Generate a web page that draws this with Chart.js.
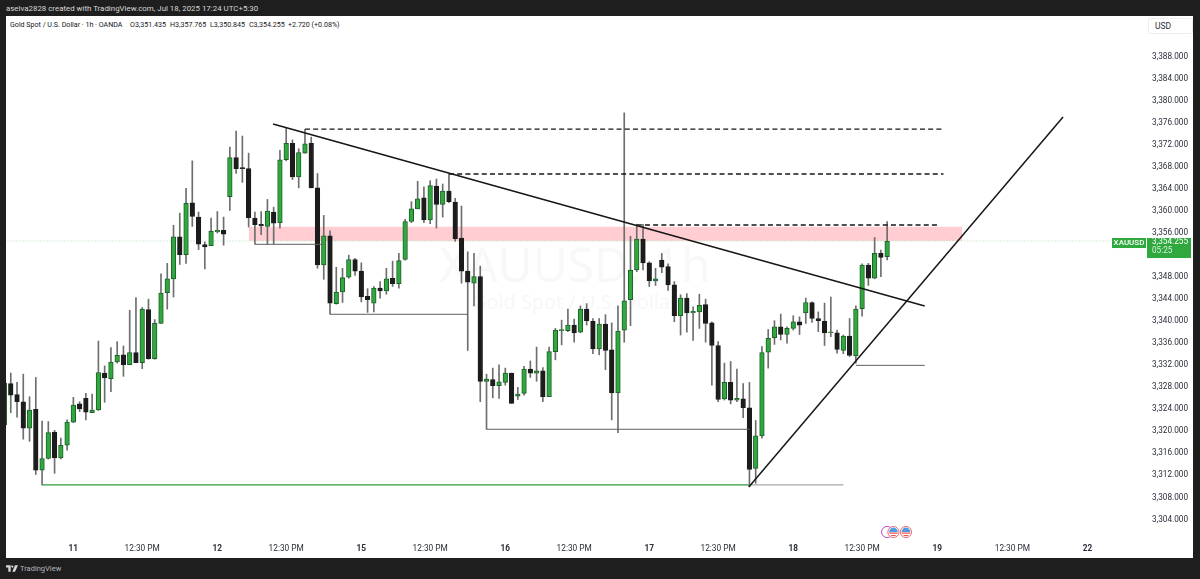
<!DOCTYPE html>
<html>
<head>
<meta charset="utf-8">
<title>XAUUSD 1h</title>
<script src="https://cdn.jsdelivr.net/npm/chart.js@4/dist/chart.umd.min.js"></script>
<style>
  html, body { margin: 0; padding: 0; width: 1200px; height: 579px; overflow: hidden; background: #1e1e1e; font-family: Roboto, sans-serif; }
  .abs { position: absolute; white-space: nowrap; }
  #panel { left: 6px; top: 16px; width: 1187px; height: 542px; background: #fff; }
  #credit { left: 6px; top: 3px; font-size: 7.9px; line-height: 11px; color: #d8d8d8; }
  .legend { top: 19px; font-size: 7.1px; line-height: 11px; color: #131722; }
  #mark { left: 340px; width: 470px; top: 236px; text-align: center; font-family: "Open Sans", sans-serif; font-size: 48px; line-height: 56px; color: #f8f8f8; }
  #submark { left: 340px; width: 470px; top: 290px; text-align: center; font-family: "Open Sans", sans-serif; font-size: 20px; line-height: 24px; color: #f7f7f7; }
  #usd { left: 1148px; top: 18px; width: 37px; height: 14px; padding-left: 6px; border: 1px solid #eeeeee; border-radius: 2px; font-size: 8.5px; line-height: 14px; color: #2a2e39; }
  #brand { left: 20px; top: 563px; font-size: 7.5px; line-height: 11px; color: #b2b5be; }
  #logo { left: 6px; top: 565px; }
  canvas { position: absolute; left: 0; top: 0; }
</style>
</head>
<body>
<div class="abs" id="panel"></div>
<div class="abs" id="mark">XAUUSD, 1h</div>
<div class="abs" id="submark">Gold Spot / U.S. Dollar</div>
<div class="abs" id="credit">aselva2828 created with TradingView.com, Jul 18, 2025 17:24 UTC+5:30</div>
<div class="abs legend" style="left:10px">Gold Spot / U.S. Dollar · 1h · OANDA</div>
<div class="abs legend" style="left:130px">O3,351.435</div>
<div class="abs legend" style="left:170px">H3,357.765</div>
<div class="abs legend" style="left:210px">L3,350.845</div>
<div class="abs legend" style="left:249px">C3,354.255</div>
<div class="abs legend" style="left:288px">+2.720 (+0.08%)</div>
<div class="abs" id="usd">USD</div>
<svg class="abs" id="logo" width="12" height="7" viewBox="0 0 36 20"><path fill="#d8d8d8" d="M0 0h14v20H7V7H0zM16 0h20l-9 20h-8l8-20zM16 4a3 3 0 1 1 0 .1z"/></svg>
<div class="abs" id="brand">TradingView</div>
<canvas id="chart" width="1200" height="579"></canvas>
<script>
// candles, one per hour, oldest first
const opens = [3320.9,3328.4,3326.4,3325.1,3320.3,3323.7,3312.7,3314.8,3319.6,3314.9,3317.2,3321.4,3324.7,3325.7,3323.1,3323.6,3330.3,3329.3,3332.3,3333.6,
  3331.8,3334.0,3332.2,3341.8,3332.9,3339.3,3344.9,3347.4,3355.0,3351.8,3361.2,3358.6,3353.6,3353.4,3355.9,3356.2,3362.3,3369.4,3367.6,3367.4,
  3358.4,3357.3,3356.9,3359.5,3357.6,3369.0,3372.0,3365.9,3370.2,3372.0,3363.9,3349.9,3355.2,3342.9,3345.0,3347.7,3350.9,3348.8,3344.2,3343.0,
  3345.7,3345.2,3347.5,3346.5,3350.9,3357.8,3360.1,3362.1,3358.1,3364.2,3360.9,3363.3,3361.3,3354.8,3348.8,3346.6,3347.8,3328.8,3329.1,3328.0,
  3328.6,3330.3,3326.1,3326.6,3331.0,3330.3,3330.7,3326.0,3334.2,3338.0,3338.0,3339.0,3337.7,3341.9,3339.7,3334.7,3339.2,3334.5,3326.7,3338.1,
  3343.6,3349.0,3354.6,3350.3,3347.0,3350.8,3349.6,3346.3,3340.7,3343.9,3341.2,3341.4,3342.7,3339.4,3335.3,3325.6,3328.6,3325.4,3325.6,3324.0,
  3313.0,3318.9,3334.1,3336.7,3338.7,3337.3,3338.4,3339.6,3341.2,3343.1,3340.2,3339.7,3337.6,3337.6,3334.4,3337.0,3333.4,3342.0,3349.9,3347.5,
  3352.0,3351.435];
const highs = [3328.45,3330.3,3328.6,3330.1,3326.0,3329.5,3321.6,3321.5,3319.9,3318.5,3321.8,3325.9,3325.1,3326.6,3326.5,3336.1,3331.6,3334.9,3336.0,3335.2,
  3341.7,3344.0,3342.2,3343.7,3340.0,3348.3,3350.2,3357.1,3359.3,3363.8,3368.8,3359.5,3354.1,3358.4,3359.6,3358.6,3371.3,3374.2,3373.3,3370.2,
  3359.5,3359.6,3361.8,3360.4,3370.7,3374.8,3372.6,3371.0,3374.5,3373.1,3366.5,3358.9,3356.1,3349.5,3349.3,3351.7,3351.1,3350.3,3345.6,3346.0,
  3346.9,3349.3,3350.6,3352.0,3358.2,3361.4,3365.1,3364.1,3365.2,3365.5,3364.6,3366.4,3362.0,3360.6,3352.3,3352.0,3349.7,3330.1,3331.2,3331.8,
  3331.2,3330.3,3327.7,3331.5,3332.5,3335.0,3331.3,3335.0,3338.4,3339.9,3341.9,3340.1,3342.5,3342.9,3340.2,3340.2,3340.9,3339.4,3342.5,3377.5,
  3355.1,3357.3,3357.3,3350.5,3349.3,3352.0,3350.1,3346.9,3344.5,3344.7,3342.3,3344.6,3343.7,3339.6,3336.0,3332.1,3332.4,3331.0,3328.4,3328.6,
  3321.7,3335.1,3338.2,3339.8,3341.0,3338.7,3340.7,3340.5,3343.9,3343.2,3341.4,3343.0,3344.1,3338.1,3337.2,3340.2,3342.5,3350.1,3350.2,3354.9,
  3352.6,3357.765];
const lows = [3320.9,3323.1,3322.3,3318.3,3317.9,3311.9,3310.0,3314.7,3312.1,3314.7,3316.3,3321.3,3323.3,3321.8,3323.1,3323.5,3325.0,3326.9,3332.1,3329.7,
  3331.8,3332.2,3331.1,3332.8,3332.8,3339.3,3341.9,3344.1,3350.0,3350.2,3356.9,3352.7,3349.2,3353.4,3355.7,3353.5,3359.8,3366.5,3364.9,3356.8,
  3353.7,3355.4,3353.7,3353.7,3356.6,3368.8,3365.4,3363.9,3370.2,3363.9,3349.3,3347.3,3341.0,3342.8,3343.1,3347.5,3348.0,3343.2,3341.3,3341.4,
  3343.9,3344.6,3346.0,3345.7,3350.8,3357.6,3360.1,3357.6,3357.4,3356.6,3358.6,3361.2,3354.2,3346.6,3334.4,3342.5,3325.1,3320.1,3325.8,3325.7,
  3328.1,3324.8,3325.5,3326.3,3329.5,3328.8,3325.1,3326.0,3332.7,3335.4,3337.8,3335.9,3337.6,3339.0,3333.8,3333.6,3330.9,3321.8,3319.5,3335.9,
  3338.9,3348.7,3349.0,3346.0,3346.2,3348.5,3345.3,3339.6,3337.2,3337.7,3336.2,3338.4,3335.9,3328.1,3325.1,3325.4,3324.7,3325.1,3322.2,3309.7,
  3310.3,3318.5,3331.2,3335.5,3336.3,3335.7,3338.1,3337.3,3339.3,3339.5,3337.8,3335.3,3336.9,3333.9,3333.8,3333.3,3332.1,3340.6,3346.2,3347.4,
  3347.8,3350.845];
const closes = [3328.45,3326.3,3325.1,3320.3,3323.6,3312.7,3314.8,3319.5,3314.9,3317.2,3321.4,3324.5,3323.8,3323.2,3323.6,3330.4,3329.4,3332.3,3333.5,3331.8,
  3334.0,3332.2,3341.9,3332.9,3339.3,3344.8,3347.4,3355.0,3351.8,3361.1,3358.7,3353.7,3353.2,3356.0,3356.2,3355.5,3369.4,3367.4,3367.4,3358.5,
  3357.2,3357.0,3359.7,3357.5,3369.0,3372.0,3365.9,3370.3,3371.9,3363.9,3349.9,3355.2,3343.0,3345.0,3347.6,3350.9,3348.8,3344.1,3343.6,3345.7,
  3345.2,3347.4,3346.5,3350.7,3357.8,3360.1,3361.9,3358.1,3364.3,3360.9,3363.3,3361.4,3354.7,3348.8,3346.8,3347.8,3328.8,3329.2,3328.0,3328.7,
  3330.3,3324.8,3326.5,3331.0,3330.3,3330.7,3326.0,3334.2,3338.1,3338.2,3339.0,3337.6,3341.9,3339.8,3334.7,3339.2,3334.4,3326.7,3337.9,3343.4,
  3349.0,3354.6,3350.3,3347.0,3347.4,3349.5,3346.3,3340.7,3343.9,3341.2,3341.5,3342.6,3339.3,3335.3,3325.5,3328.6,3325.4,3325.7,3324.0,3312.8,
  3318.9,3334.0,3336.6,3338.7,3337.3,3338.4,3339.6,3339.0,3343.1,3340.2,3339.8,3337.6,3337.7,3334.6,3337.0,3333.5,3341.9,3349.9,3347.5,3352.0,
  3351.3,3354.255];

// axis ticks
const priceTicks = [3304,3308,3312,3316,3320,3324,3328,3332,3336,3340,3344,3348,3352,3356,3360,3364,3368,3372,3376,3380,3384,3388];
const timeTicks = [11,22,34,45,57,68,80,91,103,114,126,137,149,161,173];
const timeLabels = ['11','12:30 PM','12','12:30 PM','15','12:30 PM','16','12:30 PM','17','12:30 PM','18','12:30 PM','19','12:30 PM','22'];
const lastPrice = 3354.255;

// hand drawn objects on the chart, [bar index, price]
const zoneTop = [[39,3356.85],[153,3356.85]];
const zoneBottom = 3354.31;
const fallingTrend = [[42.9,3375.5],[147,3342.46]];
const risingTrend = [[118.9,3309.63],[169.1,3376.75]];
const dashHigh1 = [[48,3374.57],[150,3374.57]];
const dashHigh2 = [[71,3366.41],[150,3366.41]];
const dashHigh3 = [[101,3357.16],[149,3357.16]];
const lowGreen = [[6,3310.0],[119,3310.0]];
const lowGrey = [[119,3310.0],[134,3310.0]];
const thinLevels = [
  [[40,3353.66],[51,3353.66]],
  [[52,3340.96],[74,3340.96]],
  [[77,3320.1],[119,3320.1]],
  [[136,3331.7],[147,3331.7]]
];
const priceLine = [[0,lastPrice],[183,lastPrice]];
const eventBars = [141,142,144];
const eventPrice = 3301.46;

const GREEN = '#2fa83e';
const DARK = '#1c1c1c';
const FONT = 'Roboto, sans-serif';

const toPoints = pts => pts.map(p => ({ x: p[0], y: p[1] }));

function lineSet(pts, color, width, dash) {
  return {
    type: 'line',
    data: toPoints(pts),
    borderColor: color,
    borderWidth: width,
    borderDash: dash || [],
    pointRadius: 0,
    fill: false,
    tension: 0,
    order: 1
  };
}

// green tag with the last price, sits on the price axis
const priceTag = {
  id: 'priceTag',
  afterDraw(chart) {
    const ctx = chart.ctx;
    const y = chart.scales.y.getPixelForValue(lastPrice);
    ctx.save();
    ctx.fillStyle = GREEN;
    ctx.fillRect(1112, y - 3, 34, 10);
    ctx.fillRect(1147, y - 3, 44, 20);
    ctx.fillStyle = '#fff';
    ctx.textBaseline = 'middle';
    ctx.textAlign = 'center';
    ctx.font = '500 8px ' + FONT;
    ctx.fillText('XAUUSD', 1129, y + 2);
    ctx.textAlign = 'right';
    ctx.font = '8.2px ' + FONT;
    ctx.fillText('3,354.255', 1188, y + 1);
    ctx.textAlign = 'left';
    ctx.fillStyle = '#d8f0db';
    ctx.fillText('05:25', 1152, y + 10);
    ctx.restore();
  }
};

// little economic calendar flags above the time axis
const eventFlags = {
  id: 'eventFlags',
  afterDatasetsDraw(chart) {
    const ctx = chart.ctx;
    const y = chart.scales.y.getPixelForValue(eventPrice);
    eventBars.forEach((bar, i) => {
      const x = chart.scales.x.getPixelForValue(bar);
      ctx.save();
      ctx.beginPath();
      ctx.arc(x, y, 5.6, 0, Math.PI * 2);
      ctx.fillStyle = '#fff';
      ctx.fill();
      ctx.lineWidth = 1;
      ctx.strokeStyle = i === 0 ? '#b44fd0' : '#f26d6d';
      ctx.stroke();
      if (i > 0) {
        ctx.beginPath();
        ctx.arc(x, y, 4.4, 0, Math.PI * 2);
        ctx.clip();
        ctx.fillStyle = '#4a9be8';
        ctx.fillRect(x - 5, y - 5, 10, 5);
        ctx.fillStyle = '#f04e4e';
        ctx.fillRect(x - 5, y + 0.5, 10, 1.2);
        ctx.fillRect(x - 5, y + 3, 10, 1.2);
      }
      ctx.restore();
    });
  }
};

const bars = opens.map((o, i) => i);

new Chart(document.getElementById('chart'), {
  type: 'bar',
  data: {
    datasets: [
      {
        type: 'line',
        data: toPoints(zoneTop),
        borderWidth: 0,
        pointRadius: 0,
        backgroundColor: '#ffcdd2',
        fill: { value: zoneBottom },
        order: 6
      },
      Object.assign(lineSet(priceLine, 'rgba(47,168,62,.4)', 1, [1, 2]), { order: 5 }),
      {
        data: bars.map(i => ({ x: i, y: [lows[i], highs[i]] })),
        backgroundColor: '#6e6e6e',
        barThickness: 1,
        grouped: false,
        order: 4
      },
      {
        data: bars.map(i => ({ x: i, y: [opens[i], closes[i]] })),
        backgroundColor: bars.map(i => closes[i] >= opens[i] ? GREEN : DARK),
        borderColor: bars.map(i => closes[i] >= opens[i] ? '#1f5f2a' : DARK),
        borderWidth: 1,
        borderSkipped: false,
        barThickness: 4.6,
        minBarLength: 1,
        grouped: false,
        order: 3
      },
      lineSet(fallingTrend, '#161616', 1.5),
      lineSet(risingTrend, '#161616', 1.5),
      lineSet(dashHigh1, '#161616', 1.3, [5, 3.2]),
      lineSet(dashHigh2, '#161616', 1.3, [5, 3.2]),
      lineSet(dashHigh3, '#161616', 1.3, [5, 3.2]),
      lineSet(lowGreen, '#2f9a3c', 1.3),
      lineSet(lowGrey, '#a8a8a8', 1.3),
      ...thinLevels.map(l => lineSet(l, '#5f5f5f', 1))
    ]
  },
  plugins: [eventFlags, priceTag],
  options: {
    responsive: false,
    animation: false,
    events: [],
    layout: { padding: { left: 6, top: 16, right: 12, bottom: 21 } },
    plugins: { legend: { display: false }, tooltip: { enabled: false } },
    scales: {
      x: {
        type: 'linear',
        offset: false,
        min: 0.24,
        max: 182.35,
        grid: { display: false, drawTicks: false },
        border: { display: false },
        afterBuildTicks: axis => { axis.ticks = timeTicks.map(v => ({ value: v })); },
        afterFit: axis => { axis.height = 18; },
        ticks: {
          autoSkip: false,
          maxRotation: 0,
          padding: 4,
          color: '#2a2e39',
          callback: value => timeLabels[timeTicks.indexOf(value)],
          font: c => ({
            family: FONT,
            size: 8.3,
            weight: timeLabels[c.index] && timeLabels[c.index].length < 3 ? 'bold' : 'normal'
          })
        }
      },
      y: {
        position: 'right',
        min: 3300.01,
        max: 3395.08,
        grid: { display: false, drawTicks: false },
        border: { display: false },
        afterBuildTicks: axis => { axis.ticks = priceTicks.map(v => ({ value: v })); },
        afterFit: axis => { axis.width = 42; },
        ticks: {
          autoSkip: false,
          padding: 0,
          labelOffset: 1.5,
          crossAlign: 'far',
          color: '#2a2e39',
          font: { family: FONT, size: 8.2 },
          callback: v => v.toLocaleString('en-US', { minimumFractionDigits: 3, maximumFractionDigits: 3 })
        }
      }
    }
  }
});
</script>
</body>
</html>
